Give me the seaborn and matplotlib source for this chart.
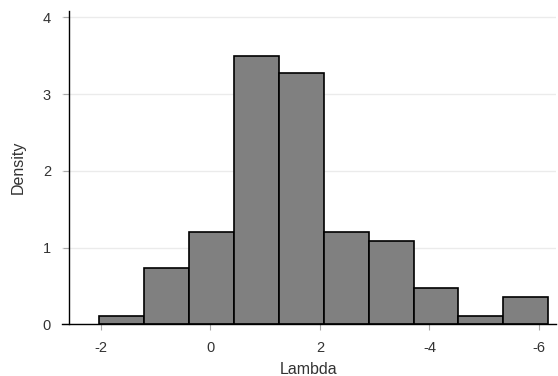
import matplotlib
matplotlib.use("Agg")
import matplotlib.pyplot as plt
import seaborn as sns
import numpy as np

# Histogram (bin edges in axis units, density per bin)
bin_edges = [-2.03, -1.21, -0.39, 0.43, 1.25, 2.07, 2.89, 3.71, 4.53, 5.35, 6.17]
densities = [0.11, 0.73, 1.20, 3.50, 3.27, 1.20, 1.08, 0.47, 0.11, 0.35]
tick_positions = [-2, 0, 2, 4, 6]
tick_labels = ["-2", "0", "2", "-4", "-6"]

bin_centers = [(a + b) / 2 for a, b in zip(bin_edges[:-1], bin_edges[1:])]

sns.set_theme(style="white")
plt.rcParams["font.family"] = ["Liberation Sans", "DejaVu Sans"]

fig = plt.figure(figsize=(5.58, 3.76), dpi=100)
ax = fig.add_axes([62 / 558, 51.7 / 376, 494 / 558, 313.6 / 376])

sns.histplot(
    x=bin_centers,
    weights=densities,
    bins=bin_edges,
    stat="count",
    color="#808080",
    alpha=1,
    edgecolor="black",
    linewidth=1.2,
    ax=ax,
)

ax.set_xlim(-2.706, 6.31)
ax.set_ylim(0, 4.086)
ax.set_xticks(tick_positions)
ax.set_xticklabels(tick_labels)
ax.set_yticks([0, 1, 2, 3, 4])

ax.yaxis.grid(True, color="#ebebeb", linewidth=1)
ax.set_axisbelow(True)

sns.despine(ax=ax)
ax.spines["left"].set_position(("outward", -5))
for side in ["left", "bottom"]:
    ax.spines[side].set_color("black")
    ax.spines[side].set_linewidth(1)

ax.tick_params(axis="both", which="both", length=4, width=0.8, color="#aaaaaa",
               labelsize=10.5, labelcolor="#333333", left=True, bottom=True)
ax.tick_params(axis="x", pad=8)
ax.tick_params(axis="y", pad=9)

ax.set_xlabel("Lambda", fontsize=11.5, color="#333333", labelpad=5)
ax.set_ylabel("Density", fontsize=11.5, color="#333333", labelpad=12)

fig.savefig("out.png", dpi=100)
